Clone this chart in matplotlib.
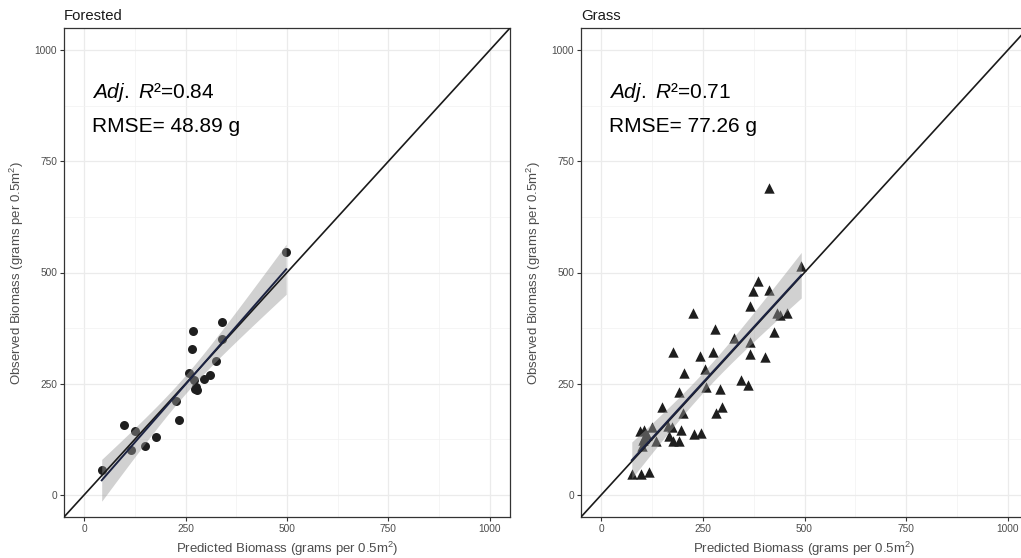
import numpy as np
import matplotlib.pyplot as plt

plt.rcParams['font.family'] = ['Liberation Sans', 'DejaVu Sans']
plt.rcParams['mathtext.fontset'] = 'custom'
plt.rcParams['mathtext.rm'] = 'Liberation Sans'
plt.rcParams['mathtext.it'] = 'Liberation Sans:italic'

# Forested plots: predicted vs observed biomass (g per 0.5 m2)
forest_pred = [43, 99, 124, 116, 151, 178, 234, 226, 259, 268, 266, 270, 275,
               278, 273, 295, 311, 325, 340, 340, 498]
forest_obs = [55, 156, 143, 101, 110, 129, 169, 210, 273, 369, 327, 259, 243,
              235, 237, 261, 270, 301, 351, 389, 547]

# Grass plots
grass_pred = [412, 492, 385, 374, 413, 367, 226, 433, 439, 456, 280, 426, 326,
              366, 177, 244, 274, 367, 403, 256, 204, 344, 361, 257, 292, 190,
              297, 283, 149, 200, 125, 95, 104, 112, 164, 175, 195, 166, 227,
              246, 177, 190, 134, 100, 103, 75, 98, 118, 105]
grass_obs = [690, 515, 481, 459, 460, 425, 410, 410, 404, 410, 373, 366, 353,
             343, 321, 312, 321, 316, 311, 284, 275, 258, 247, 242, 238, 231,
             197, 184, 197, 184, 152, 144, 146, 135, 154, 153, 145, 132, 137,
             138, 122, 120, 120, 109, 124, 46, 46, 52, 128]

ticks = [0, 250, 500, 750, 1000]
minor = [125, 375, 625, 875]
xlab = 'Predicted Biomass (grams per 0.5m$^{2}$)'
ylab = 'Observed Biomass (grams per 0.5m$^{2}$)'


def panel(ax, x, y, marker, size, title, r2, rmse, tval):
    x = np.array(x, float)
    y = np.array(y, float)
    ax.set_xlim(-50, 1050)
    ax.set_ylim(-50, 1050)
    ax.set_xticks(ticks)
    ax.set_yticks(ticks)
    ax.set_xticks(minor, minor=True)
    ax.set_yticks(minor, minor=True)
    ax.grid(which='major', color='#ebebeb', lw=0.9)
    ax.grid(which='minor', color='#f2f2f2', lw=0.5)
    ax.set_axisbelow(True)
    ax.tick_params(which='minor', length=0)
    ax.tick_params(which='major', length=3, width=0.8, color='#333333',
                   labelsize=7.3, labelcolor='#4d4d4d', pad=2)

    ax.scatter(x, y, marker=marker, s=size, color='#1e1e1e', lw=0, zorder=2)

    # linear fit + 95% confidence band
    b, a = np.polyfit(x, y, 1)
    n = len(x)
    s = np.sqrt(np.sum((y - (a + b * x)) ** 2) / (n - 2))
    xs = np.linspace(x.min(), x.max(), 100)
    yh = a + b * xs
    se = s * np.sqrt(1 / n + (xs - x.mean()) ** 2 / np.sum((x - x.mean()) ** 2))
    ax.fill_between(xs, yh - tval * se, yh + tval * se, color='#999999',
                    alpha=0.45, lw=0, zorder=3)
    ax.plot([-50, 1050], [-50, 1050], color='#1a1a1a', lw=1.2, zorder=3.5)
    ax.plot(xs, yh, color='#1c2342', lw=1.4, zorder=4)

    for sp in ax.spines.values():
        sp.set_color('#333333')
        sp.set_linewidth(0.9)

    ax.set_title(title, loc='left', fontsize=10.7, color='#1a1a1a', pad=6)
    ax.set_xlabel(xlab, fontsize=9.5, color='#4d4d4d', labelpad=4)
    ax.set_ylabel(ylab, fontsize=9.5, color='#4d4d4d', labelpad=6)
    ax.text(20, 893, '$Adj.$ $R$\u00b2=' + r2, fontsize=15, va='baseline')
    ax.text(20, 815, 'RMSE= ' + rmse + ' g', fontsize=15, va='baseline')


fig = plt.figure(dpi=100, figsize=(10.21, 5.58))
W, H = 1021, 558
ax1 = fig.add_axes([64 / W, (H - 517) / H, 446 / W, 489 / H])
ax2 = fig.add_axes([581 / W, (H - 517) / H, 447 / W, 489 / H])

panel(ax1, forest_pred, forest_obs, 'o', 42, 'Forested', '0.84', '48.89', 2.093)
panel(ax2, grass_pred, grass_obs, '^', 56, 'Grass', '0.71', '77.26', 2.012)

plt.savefig('out.png', dpi=100)
